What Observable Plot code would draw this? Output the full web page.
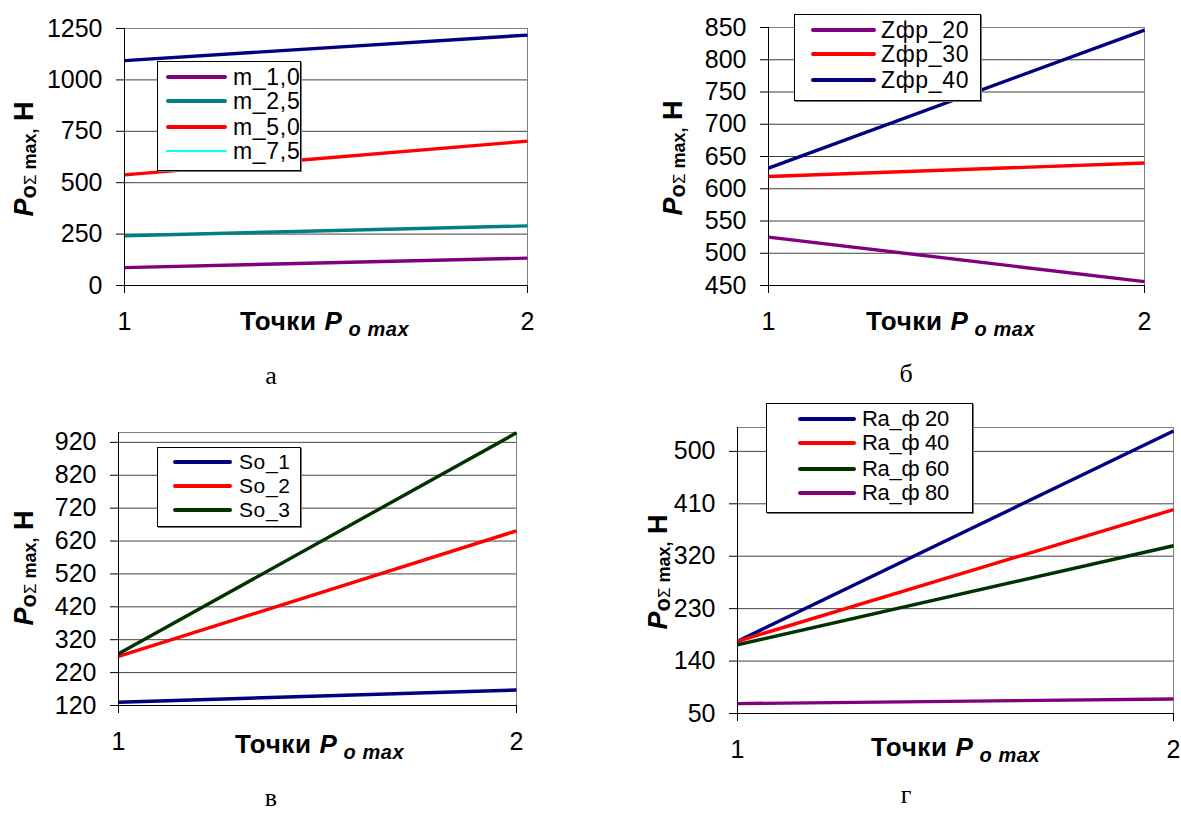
<!DOCTYPE html>
<html><head><meta charset="utf-8">
<script src="https://cdn.jsdelivr.net/npm/d3@7"></script>
<script src="https://cdn.jsdelivr.net/npm/@observablehq/plot@0.6"></script>
<style>
body{margin:0;background:#fff;font-family:Arial,"Liberation Sans",sans-serif;}
#root{position:relative;width:1181px;height:813px;overflow:hidden;background:#fff;}
.legend{position:absolute;border:1px solid #000;background:#fff;box-sizing:border-box;box-shadow:1px 1px 0 #777;}
.ltxt{position:absolute;line-height:20px;color:#000;white-space:nowrap;}
.sw{position:absolute;border-radius:2px;}
.ytitle{position:absolute;transform:translate(-50%,-50%) rotate(-90deg);white-space:nowrap;font-weight:bold;color:#000;line-height:1;}
.xtitle{position:absolute;white-space:nowrap;font-weight:bold;color:#000;line-height:1;}
.cap{position:absolute;font-family:"Liberation Serif","DejaVu Serif",serif;font-size:26px;transform:translateX(-50%);line-height:1;}
</style></head>
<body><div id="root"></div>
<script>
// ---------- data ----------
const xPoints = [1, 2];

// panel а
const aNames = ["m_1,0", "m_2,5", "m_5,0", "m_7,5"];
const aAt1 = [87, 242, 538, 1094];
const aAt2 = [133, 290, 702, 1218];
const aTicks = [0, 250, 500, 750, 1000, 1250];

// panel б
const bNames = ["Zфр_20", "Zфр_30", "Zфр_40"];
const bAt1 = [525, 619, 632];
const bAt2 = [456, 640, 846];
const bTicks = [450, 500, 550, 600, 650, 700, 750, 800, 850];

// panel в
const vNames = ["So_1", "So_2", "So_3"];
const vAt1 = [130, 269, 277];
const vAt2 = [167, 651, 949];
const vTicks = [120, 220, 320, 420, 520, 620, 720, 820, 920];

// panel г
const gNames = ["Ra_ф 20", "Ra_ф 40", "Ra_ф 60", "Ra_ф 80"];
const gAt1 = [174, 174, 168, 67];
const gAt2 = [535, 400, 338, 75];
const gTicks = [50, 140, 230, 320, 410, 500];

const captions = ["а", "б", "в", "г"];

// ---------- styles ----------
const aLine = ["#800080", "#008080", "#ff0000", "#000080"];
const aLegend = ["#800080", "#008080", "#ff0000", "#00ffff"];
const bLine = ["#800080", "#ff0000", "#000080"];
const vLine = ["#000080", "#ff0000", "#003300"];
const gLine = ["#000080", "#ff0000", "#003300", "#800080"];

const root = document.getElementById("root");

function el(cls, css, html) {
  const d = document.createElement("div");
  d.className = cls;
  Object.assign(d.style, css);
  if (html !== undefined) d.innerHTML = html;
  root.appendChild(d);
  return d;
}

function panel(cfg) {
  const {names, at1, at2, colors, yDomain, ticks, frame} = cfg;
  const data = names.flatMap((n, i) => [
    {s: n, x: xPoints[0], y: at1[i]},
    {s: n, x: xPoints[1], y: at2[i]}
  ]);
  const mL = 100, mR = 14, mT = 10, mB = 60;
  const chart = Plot.plot({
    width: frame.right - frame.left + mL + mR,
    height: frame.bottom - frame.top + mT + mB,
    marginLeft: mL, marginRight: mR, marginTop: mT, marginBottom: mB,
    style: {fontFamily: "Arial, 'Liberation Sans', sans-serif", fontSize: "25px", background: "transparent", overflow: "visible", color: "#000"},
    x: {domain: xPoints},
    y: {domain: yDomain},
    color: {domain: names, range: colors},
    marks: [
      Plot.gridY(ticks, {stroke: "#000", strokeOpacity: 0.75, strokeWidth: 1}),
      Plot.ruleY([yDomain[1]], {stroke: "#808080"}),
      Plot.ruleX([xPoints[1]], {stroke: "#808080"}),
      Plot.line(data, {x: "x", y: "y", z: "s", stroke: "s", strokeWidth: 3.4, strokeLinecap: "butt"}),
      Plot.axisY(ticks, {tickSize: 8, tickPadding: 14, label: null, stroke: "#000", fill: "#000", fontSize: 25, tickFormat: d => String(d)}),
      Plot.axisX(xPoints, {tickSize: 8, tickPadding: 19, tickFormat: d => String(d), label: null, stroke: "#000", fill: "#000", fontSize: 25}),
      Plot.ruleX([xPoints[0]], {stroke: "#000"}),
      Plot.ruleY([yDomain[0]], {stroke: "#000"})
    ]
  });
  chart.style.position = "absolute";
  chart.style.left = (frame.left - mL) + "px";
  chart.style.top = (frame.top - mT) + "px";
  root.appendChild(chart);

  // legend
  const L = cfg.legend;
  el("legend", {left: L.x0 + "px", top: L.y0 + "px", width: (L.x1 - L.x0) + "px", height: (L.y1 - L.y0) + "px"});
  names.forEach((n, i) => {
    const lc = (cfg.legendColors || colors)[i];
    const thin = lc === "#00ffff";
    el("sw", {left: L.sx0 + "px", width: (L.sx1 - L.sx0) + "px", top: (L.rows[i] - (thin ? 1 : 2)) + "px", height: (thin ? 2 : 4) + "px", background: lc});
    el("ltxt", {left: L.tx + "px", top: (L.rows[i] - 10) + "px", fontSize: L.fs + "px", letterSpacing: L.ls + "px"}, n);
  });

  // titles
  const yt = cfg.ytitle;
  el("ytitle", {left: yt[0] + "px", top: yt[1] + "px"},
    '<span style="font-size:27px;font-style:italic">P</span><span style="font-size:22px;position:relative;top:3px">o</span><span style="font-size:17px;font-weight:normal;position:relative;top:3px">Σ</span><span style="font-size:18px;position:relative;top:3px"> max,</span><span style="font-size:27px"> Н</span>');
  const xt = cfg.xtitle;
  el("xtitle", {left: xt[0] + "px", top: (xt[1] - 14) + "px", letterSpacing: "0.6px"},
    '<span style="font-size:26px">Точки </span><span style="font-size:26px;font-style:italic">P</span><span style="font-size:20px;font-style:italic;position:relative;top:6px"> o max</span>');
  el("cap", {left: cfg.cap[0] + "px", top: (cfg.cap[1] - 15) + "px"}, cfg.capText);
}

panel({
  names: aNames, at1: aAt1, at2: aAt2, colors: aLine, legendColors: aLegend,
  yDomain: [0, 1250], ticks: aTicks,
  frame: {left: 124, right: 527, top: 28, bottom: 285},
  legend: {x0: 157, x1: 301, y0: 61, y1: 171, sx0: 166, sx1: 227, tx: 233, rows: [77, 101, 127, 151], fs: 23, ls: 0.7},
  ytitle: [24, 159], xtitle: [240, 322], cap: [271, 378], capText: captions[0]
});
panel({
  names: bNames, at1: bAt1, at2: bAt2, colors: bLine,
  yDomain: [450, 850], ticks: bTicks,
  frame: {left: 768, right: 1144, top: 27, bottom: 285},
  legend: {x0: 794, x1: 981, y0: 14, y1: 101, sx0: 811, sx1: 876, tx: 881, rows: [30, 54, 80], fs: 23, ls: 0.7},
  ytitle: [673, 158], xtitle: [866, 322], cap: [906, 376], capText: captions[1]
});
panel({
  names: vNames, at1: vAt1, at2: vAt2, colors: vLine,
  yDomain: [120, 950], ticks: vTicks,
  frame: {left: 118, right: 516, top: 432, bottom: 705},
  legend: {x0: 157, x1: 301, y0: 447, y1: 527, sx0: 173, sx1: 232, tx: 239, rows: [462, 486, 510], fs: 21, ls: 0.6},
  ytitle: [24, 568], xtitle: [235, 745], cap: [271, 800], capText: captions[2]
});
panel({
  names: gNames, at1: gAt1, at2: gAt2, colors: gLine,
  yDomain: [50, 541], ticks: gTicks,
  frame: {left: 737, right: 1173, top: 427, bottom: 713},
  legend: {x0: 766, x1: 973, y0: 403, y1: 513, sx0: 798, sx1: 856, tx: 862, rows: [419, 443, 469, 493], fs: 22, ls: -0.3},
  ytitle: [658, 572], xtitle: [871, 748], cap: [906, 797], capText: captions[3]
});
</script>
</body></html>
